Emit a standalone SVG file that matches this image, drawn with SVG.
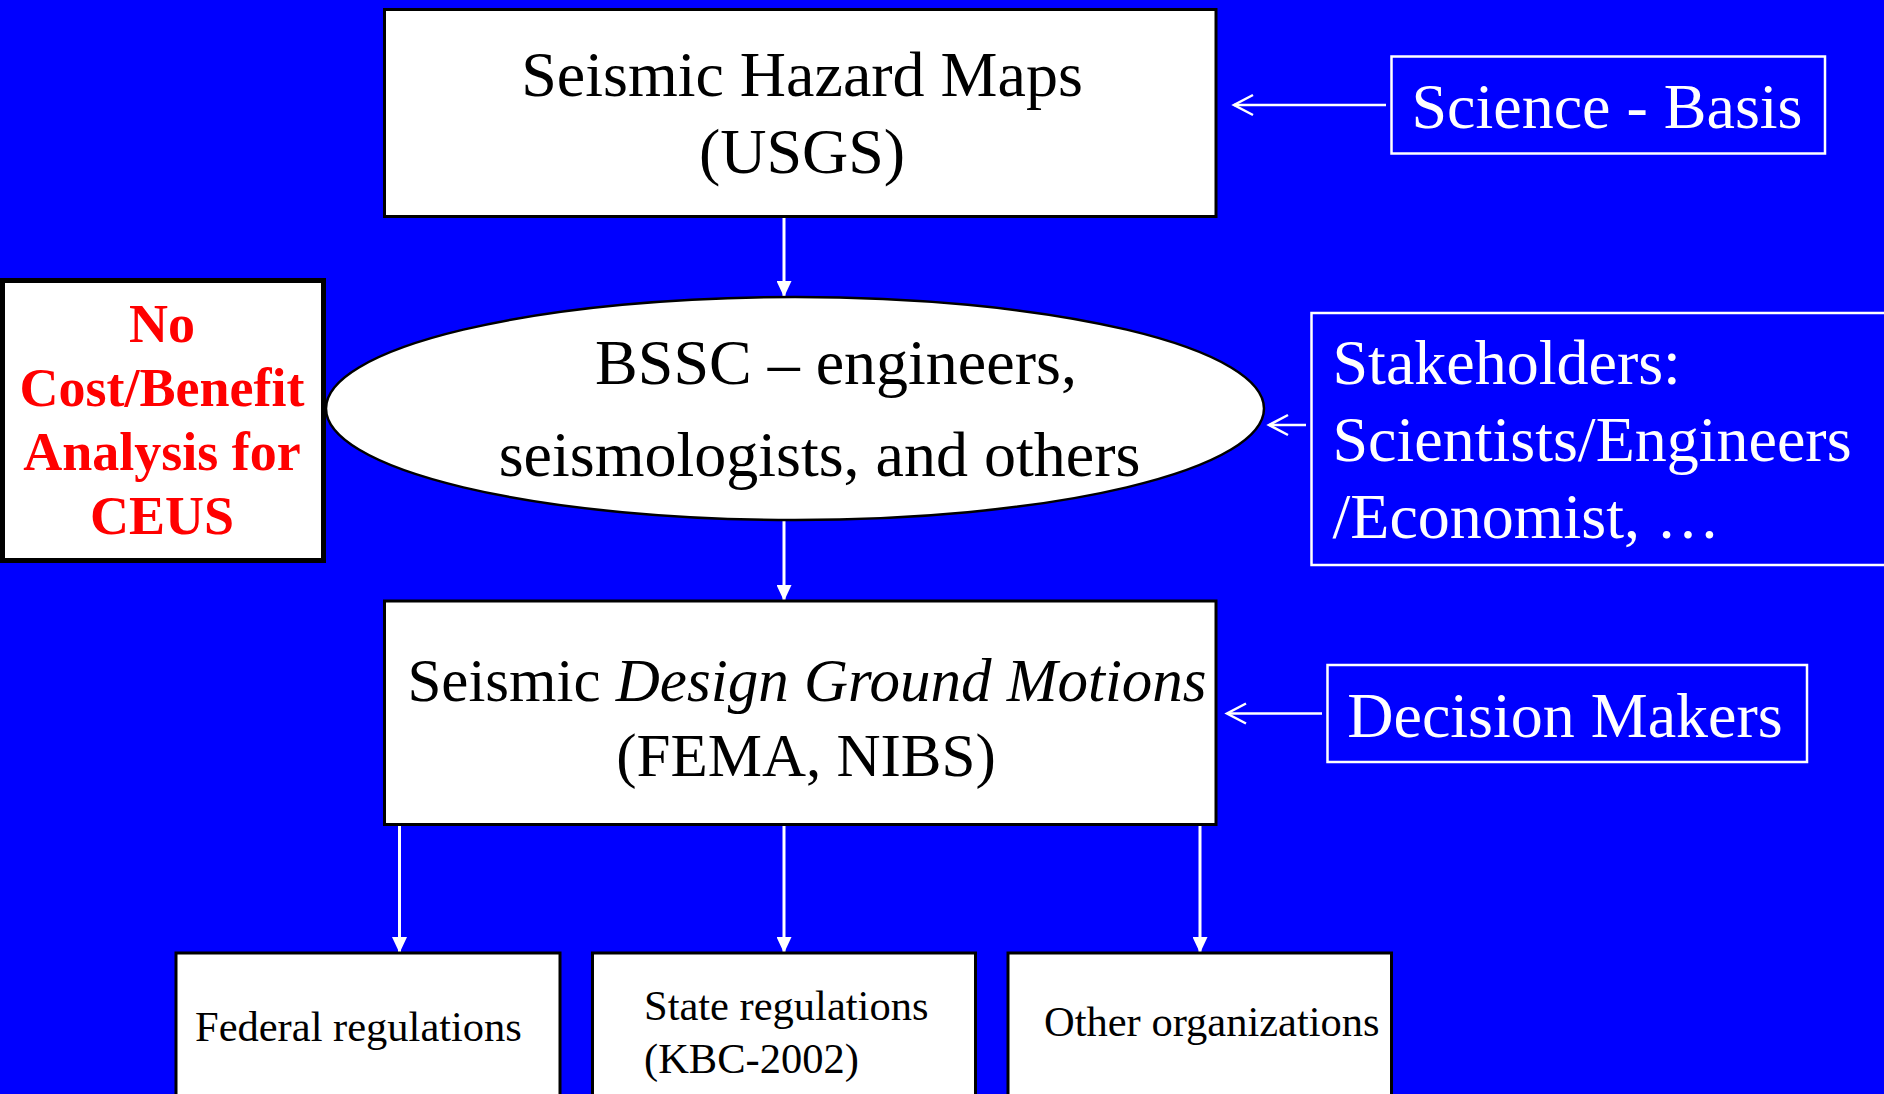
<svg xmlns="http://www.w3.org/2000/svg" width="1884" height="1094" viewBox="0 0 1884 1094">
<defs>
<style>
.bg{fill:#0000FF}
.box{fill:#FFFFFF;stroke:#000000;stroke-width:3}
.wbox{fill:none;stroke:#FFFFFF;stroke-width:2.5}
.t{font-family:"Liberation Serif","Times New Roman",serif;fill:#000000}
.w{font-family:"Liberation Serif","Times New Roman",serif;fill:#FFFFFF}
.red{font-family:"Liberation Serif","Times New Roman",serif;fill:#FF0000;font-weight:bold;font-size:54px}
.down{stroke:#FFFFFF;stroke-width:3;fill:none;marker-end:url(#filled)}
.left{stroke:#FFFFFF;stroke-width:2.5;fill:none;marker-end:url(#open)}
</style>
<marker id="filled" viewBox="0 0 16 15" refX="16" refY="7.5" markerWidth="16" markerHeight="15" markerUnits="userSpaceOnUse" orient="auto">
<path d="M0,0 L16,7.5 L0,15 z" fill="#FFFFFF"/>
</marker>
<marker id="open" viewBox="-22 -13 25 26" refX="0" refY="0" markerWidth="25" markerHeight="26" markerUnits="userSpaceOnUse" orient="auto">
<path d="M-19,-10 L0,0 L-19,10" fill="none" stroke="#FFFFFF" stroke-width="2.5"/>
</marker>
</defs>
<rect class="bg" x="0" y="0" width="1884" height="1094"/>

<g id="connectors">
<line class="down" x1="784" y1="217" x2="784" y2="297"/>
<line class="down" x1="784" y1="520" x2="784" y2="601"/>
<line class="down" x1="399.5" y1="825" x2="399.5" y2="953"/>
<line class="down" x1="784" y1="825" x2="784" y2="953"/>
<line class="down" x1="1200" y1="825" x2="1200" y2="953"/>
<line class="left" x1="1386" y1="105" x2="1234" y2="105"/>
<line class="left" x1="1306" y1="425" x2="1269" y2="425"/>
<line class="left" x1="1322" y1="713.5" x2="1227" y2="713.5"/>
</g>

<g id="hazard-maps">
<rect class="box" x="384.5" y="9.5" width="831.5" height="207"/>
<text class="t" font-size="64" text-anchor="middle" x="802" y="96">Seismic Hazard Maps</text>
<text class="t" font-size="64" text-anchor="middle" x="802" y="173">(USGS)</text>
</g>

<g id="science-basis">
<rect class="wbox" x="1391.5" y="56.5" width="433.5" height="97"/>
<text class="w" font-size="64" text-anchor="middle" x="1607" y="127.5">Science - Basis</text>
</g>

<g id="no-cost-benefit">
<rect x="2.5" y="280.5" width="321" height="280" fill="#FFFFFF" stroke="#000000" stroke-width="5"/>
<text class="red" text-anchor="middle" x="162" y="342">No</text>
<text class="red" text-anchor="middle" x="162" y="405.5">Cost/Benefit</text>
<text class="red" text-anchor="middle" x="162" y="469.5">Analysis for</text>
<text class="red" text-anchor="middle" x="162" y="533.5">CEUS</text>
</g>

<g id="bssc">
<ellipse cx="795" cy="408.5" rx="469" ry="111.5" fill="#FFFFFF" stroke="#000000" stroke-width="2.5"/>
<text class="t" font-size="64" text-anchor="middle" x="836" y="384">BSSC – engineers,</text>
<text class="t" font-size="64" text-anchor="middle" x="819.5" y="476">seismologists, and others</text>
</g>

<g id="stakeholders">
<rect class="wbox" x="1311.5" y="313" width="600" height="252"/>
<text class="w" font-size="64" x="1332.5" y="384">Stakeholders:</text>
<text class="w" font-size="64" x="1332.5" y="461">Scientists/Engineers</text>
<text class="w" font-size="64" x="1332.5" y="537.5">/Economist, …</text>
</g>

<g id="design-ground-motions">
<rect class="box" x="384.5" y="601" width="831.5" height="223.5"/>
<text class="t" font-size="61" text-anchor="middle" x="807" y="701">Seismic <tspan font-style="italic">Design Ground Motions</tspan></text>
<text class="t" font-size="61" text-anchor="middle" x="806" y="775.5">(FEMA, NIBS)</text>
</g>

<g id="decision-makers">
<rect class="wbox" x="1327.5" y="665" width="479.5" height="97"/>
<text class="w" font-size="64" text-anchor="middle" x="1565" y="736.5">Decision Makers</text>
</g>

<g id="federal">
<rect class="box" x="176" y="953" width="384" height="160"/>
<text class="t" font-size="42.5" x="195" y="1041">Federal regulations</text>
</g>

<g id="state">
<rect class="box" x="592.5" y="953" width="383" height="160"/>
<text class="t" font-size="42.5" x="644" y="1020">State regulations</text>
<text class="t" font-size="42.5" x="644" y="1073">(KBC-2002)</text>
</g>

<g id="other">
<rect class="box" x="1008" y="953" width="383.5" height="160"/>
<text class="t" font-size="42.5" x="1044" y="1035.5">Other organizations</text>
</g>
</svg>
